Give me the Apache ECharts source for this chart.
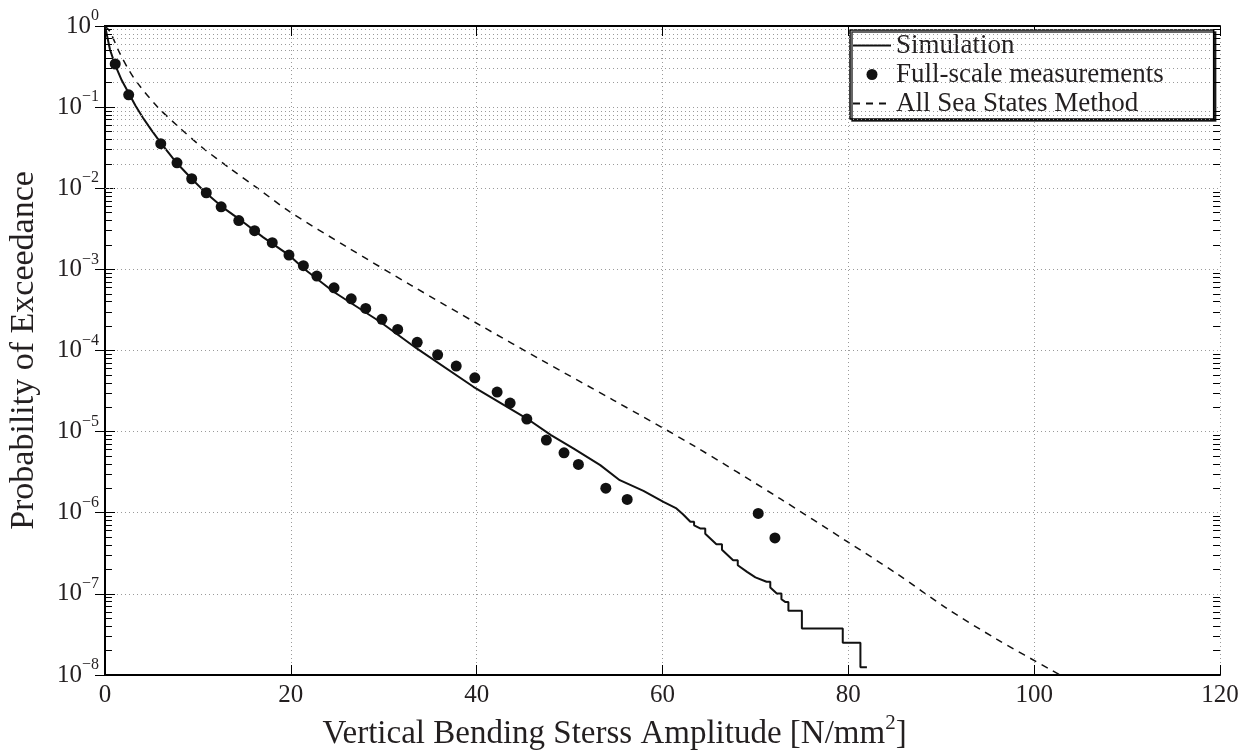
<!DOCTYPE html>
<html>
<head>
<meta charset="utf-8">
<script src="https://cdn.jsdelivr.net/npm/echarts@6/dist/echarts.min.js"></script>
<style>
html, body { margin: 0; padding: 0; background: #fff; }
#chart { width: 1245px; height: 751px; }
</style>
</head>
<body>
<div id="chart"></div>
<script>
// simulation curve, smooth part
var simX = [0, 0.54, 1.1, 1.8, 2.6, 3.3, 4.1, 5.0, 6.0, 7.7, 9.3, 10.9, 12.6, 14.4, 17.0, 19.8, 21.35, 24.6, 29.6, 33.55, 39.65, 45.4, 48.0, 50.4, 53.3, 55.4, 57.95, 60.1, 61.5];
var simY = [1.0, 0.51, 0.33, 0.214, 0.145, 0.103, 0.0735, 0.052, 0.0362, 0.0206, 0.0132, 0.00865, 0.0059, 0.0042, 0.0025, 0.0015, 0.00103, 5.3e-4, 2.26e-4, 1.06e-4, 3.57e-5, 1.45e-5, 9.06e-6, 6.2e-6, 3.86e-6, 2.52e-6, 1.86e-6, 1.36e-6, 1.13e-6];

// simulation curve, jagged / staircase tail
var tailX = [62.2, 63.0, 63.4, 63.4, 64.05, 64.6, 64.6, 65.8, 66.4, 66.4, 67.6, 68.1, 68.1, 69.1, 70.0, 71.2, 71.6, 71.6, 72.3, 72.8, 72.8, 73.2, 73.55, 73.55, 75.0, 75.0, 79.4, 79.4, 81.3, 81.3, 82.0];
var tailY = [9.6e-7, 7.73e-7, 7.73e-7, 7.0e-7, 6.4e-7, 6.4e-7, 5.5e-7, 4.1e-7, 4.1e-7, 3.5e-7, 2.6e-7, 2.6e-7, 2.25e-7, 1.87e-7, 1.6e-7, 1.41e-7, 1.41e-7, 1.2e-7, 1.01e-7, 1.01e-7, 8.6e-8, 7.96e-8, 7.96e-8, 6.2e-8, 6.2e-8, 3.75e-8, 3.75e-8, 2.5e-8, 2.5e-8, 1.25e-8, 1.25e-8];

// full-scale measurements
var measX = [1.1, 2.55, 6.0, 7.75, 9.33, 10.9, 12.5, 14.4, 16.1, 18.0, 19.8, 21.35, 22.8, 24.65, 26.5, 28.06, 29.8, 31.5, 33.6, 35.8, 37.8, 39.8, 42.2, 43.6, 45.4, 47.5, 49.4, 50.95, 53.9, 56.2, 70.3, 72.1];
var measY = [0.34, 0.142, 0.0354, 0.0206, 0.0131, 0.0088, 0.0059, 0.0040, 0.0030, 0.00213, 0.0015, 0.00111, 8.26e-4, 5.93e-4, 4.34e-4, 3.30e-4, 2.42e-4, 1.82e-4, 1.26e-4, 8.85e-5, 6.42e-5, 4.6e-5, 3.07e-5, 2.25e-5, 1.43e-5, 7.86e-6, 5.48e-6, 3.94e-6, 2.01e-6, 1.46e-6, 9.8e-7, 4.9e-7];

// all sea states method (dashed)
var assX = [0, 0.54, 1.6, 3.1, 5.56, 7.7, 10.5, 13.5, 16.3, 19.9, 26.0, 33.0, 40.4, 47.0, 54.7, 63.3, 72.7, 79.8, 85.2, 90.6, 96.0, 102.8];
var assY = [1.0, 0.851, 0.46, 0.229, 0.1033, 0.0603, 0.0316, 0.0174, 0.01023, 0.00513, 0.0019, 6.31e-4, 2.04e-4, 7.59e-5, 2.45e-5, 6.76e-6, 1.48e-6, 4.47e-7, 1.78e-7, 6.61e-8, 2.75e-8, 1e-8];

// minor grid: 2..9 x each decade
var decades = [1e-1, 1e-2, 1e-3, 1e-4, 1e-5, 1e-6, 1e-7, 1e-8];
var minorSteps = [2, 3, 4, 5, 6, 7, 8, 9];

var font = 'Liberation Serif';
var ink = '#231f20';

function pairs(xs, ys) {
    return xs.map(function (x, i) { return [x, ys[i]]; });
}

var minorVals = [];
decades.forEach(function (d) {
    minorSteps.forEach(function (m) { minorVals.push(m * d); });
});

var gridLines = minorVals.map(function (v) { return { yAxis: v }; });
var tickLines = [];
minorVals.forEach(function (v) {
    tickLines.push([{ coord: [0, v] }, { coord: [0.75, v] }]);
    tickLines.push([{ coord: [119.25, v] }, { coord: [120, v] }]);
});

var dotted = { type: [1, 3], color: '#9a9a9a', width: 1 };
// hides the dot ECharts puts on line legend icons
var noDot = { color: 'rgba(0,0,0,0)', borderWidth: 0, opacity: 0 };

var chart = echarts.init(document.getElementById('chart'));
chart.setOption({
    animation: false,
    backgroundColor: '#fff',
    textStyle: { fontFamily: font, color: ink },
    grid: { left: 105, right: 25, top: 26, bottom: 76, containLabel: false, outerBoundsMode: 'none' },
    legend: {
        data: [
            { name: 'Simulation', itemStyle: noDot },
            { name: 'Full-scale measurements' },
            { name: 'All Sea States Method', itemStyle: noDot }
        ],
        orient: 'vertical',
        left: 850,
        top: 30,
        padding: [1, 50, 1, 2],
        itemGap: 0,
        itemWidth: 38,
        itemHeight: 11,
        backgroundColor: '#fff',
        borderColor: '#000',
        borderWidth: 1.5,
        shadowColor: 'rgba(0,0,0,0.8)',
        shadowOffsetX: 2,
        shadowOffsetY: 2,
        shadowBlur: 0,
        textStyle: { fontFamily: font, fontSize: 27, color: ink, lineHeight: 29 }
    },
    xAxis: [{
        type: 'value',
        min: 0,
        max: 120,
        interval: 20,
        name: '{a|Vertical Bending Sterss Amplitude [N/mm}{s|2}{a|]}',
        nameLocation: 'middle',
        nameGap: 36,
        nameTextStyle: {
            fontFamily: font, fontSize: 33, color: ink,
            padding: [0, 96, 0, 0],
            rich: {
                a: { fontFamily: font, fontSize: 33, color: ink },
                s: { fontFamily: font, fontSize: 21, color: ink, padding: [0, 0, 22, 0] }
            }
        },
        axisLine: { lineStyle: { color: '#000', width: 2 } },
        axisTick: { inside: true, length: 10, lineStyle: { color: '#000', width: 1 } },
        axisLabel: { fontFamily: font, fontSize: 25, color: ink, margin: 8 },
        splitLine: { show: true, lineStyle: dotted }
    }, {
        type: 'value',
        position: 'top',
        min: 0,
        max: 120,
        interval: 20,
        axisLine: { lineStyle: { color: '#000', width: 2 } },
        axisTick: { inside: true, length: 10, lineStyle: { color: '#000', width: 1 } },
        axisLabel: { show: false },
        splitLine: { show: false }
    }],
    yAxis: [{
        type: 'log',
        logBase: 10,
        min: 1e-8,
        max: 1,
        interval: 1,
        splitNumber: 8,
        name: 'Probability of Exceedance',
        nameLocation: 'middle',
        nameGap: 64,
        nameTextStyle: { fontFamily: font, fontSize: 34, color: ink },
        axisLine: { show: true, lineStyle: { color: '#000', width: 2 } },
        axisTick: { show: true, inside: true, length: 10, lineStyle: { color: '#000', width: 1 } },
        axisLabel: {
            margin: 6,
            formatter: function (v) {
                var e = Math.round(Math.log(v) / Math.LN10);
                return '{b|10}{s|' + (e === 0 ? '0' : '\u2212' + (-e)) + '}';
            },
            rich: {
                b: { fontFamily: font, fontSize: 25, color: ink },
                s: { fontFamily: font, fontSize: 16, color: ink, padding: [0, 0, 20, 0] }
            }
        },
        splitLine: { show: true, lineStyle: dotted }
    }, {
        type: 'log',
        logBase: 10,
        min: 1e-8,
        max: 1,
        interval: 1,
        splitNumber: 8,
        position: 'right',
        axisLine: { show: true, lineStyle: { color: '#000', width: 2 } },
        axisTick: { show: true, inside: true, length: 10, lineStyle: { color: '#000', width: 1 } },
        axisLabel: { show: false },
        splitLine: { show: false }
    }],
    series: [{
        name: 'grid',
        type: 'line',
        z: 1,
        data: [[0, 1]],
        showSymbol: false,
        symbol: 'none',
        lineStyle: { width: 0 },
        silent: true,
        markLine: {
            silent: true,
            symbol: ['none', 'none'],
            label: { show: false },
            lineStyle: dotted,
            emphasis: { disabled: true },
            data: gridLines
        }
    }, {
        name: 'ticks',
        type: 'line',
        z: 2,
        data: [[0, 1]],
        showSymbol: false,
        symbol: 'none',
        lineStyle: { width: 0 },
        silent: true,
        markLine: {
            silent: true,
            symbol: ['none', 'none'],
            label: { show: false },
            lineStyle: { type: 'solid', color: '#000', width: 1 },
            emphasis: { disabled: true },
            data: tickLines
        }
    }, {
        name: 'Simulation',
        type: 'line',
        z: 4,
        data: pairs(simX.concat(tailX), simY.concat(tailY)),
        symbol: 'none',
        lineStyle: { color: '#111', width: 2 },
        itemStyle: { color: '#111' }
    }, {
        name: 'Full-scale measurements',
        type: 'scatter',
        z: 5,
        data: pairs(measX, measY),
        symbol: 'circle',
        symbolSize: 11,
        itemStyle: { color: '#111', opacity: 1 }
    }, {
        name: 'All Sea States Method',
        type: 'line',
        z: 3,
        data: pairs(assX, assY),
        symbol: 'none',
        smooth: 0.3,
        lineStyle: { color: '#111', width: 1.5, type: [7, 6] },
        itemStyle: { color: '#111' }
    }]
});
</script>
</body>
</html>
